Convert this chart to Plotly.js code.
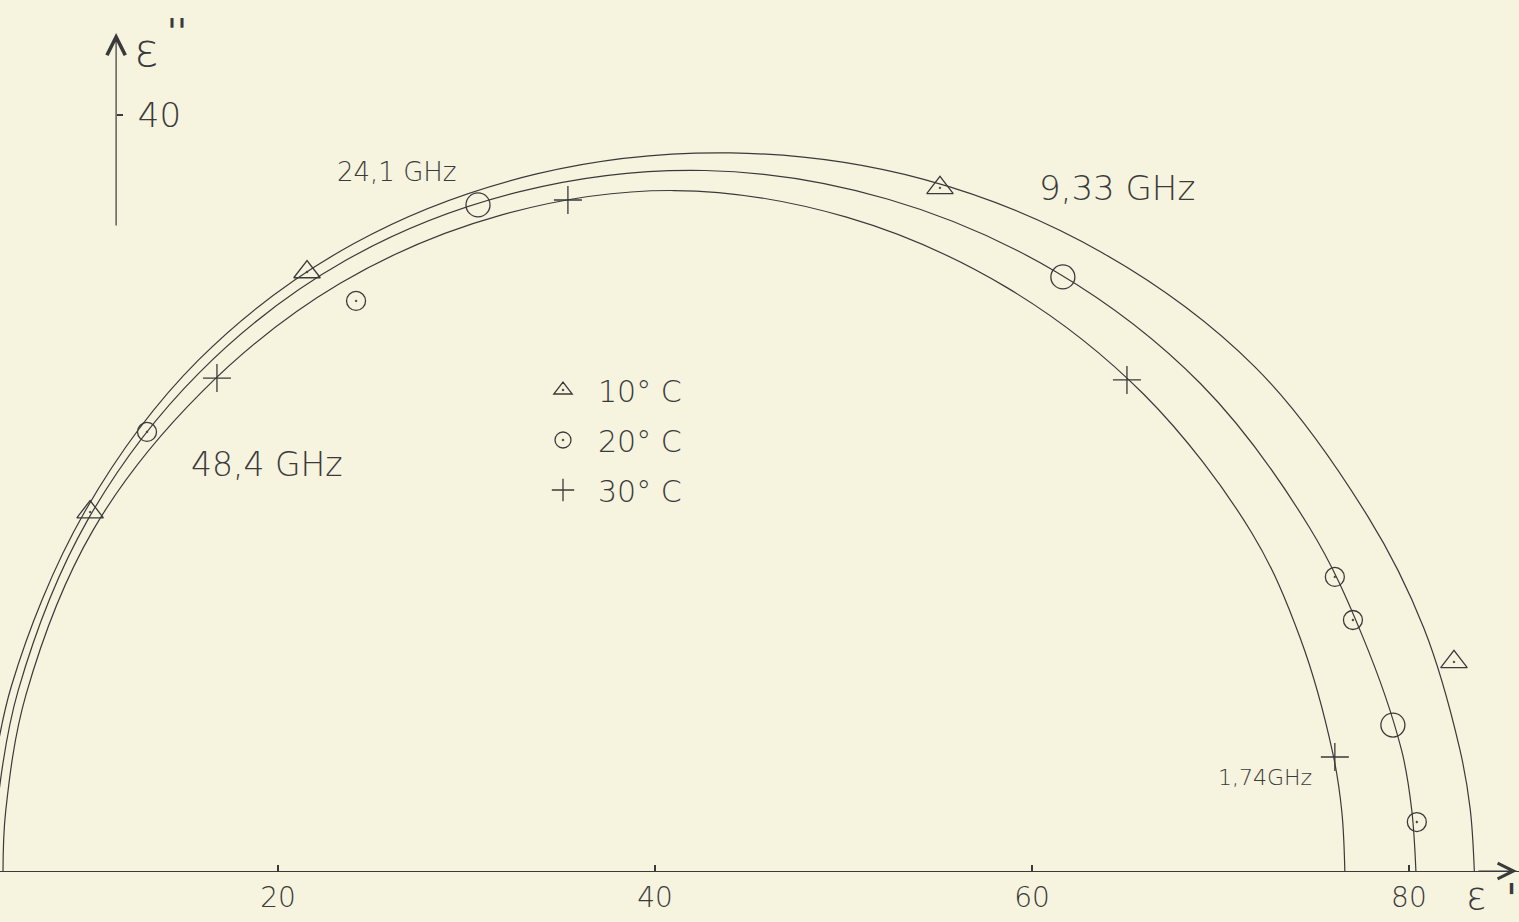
<!DOCTYPE html>
<html>
<head>
<meta charset="utf-8">
<script src="https://cdn.plot.ly/plotly-3.0.1.min.js"></script>
<style>
  html, body { margin: 0; padding: 0; background: #f6f3df; }
  #chart { width: 1519px; height: 922px; }
</style>
</head>
<body>
<div id="chart"></div>
<script>
// ---- data (epsilon', epsilon'') ----
// drawn curves (points read along each hand-drawn arc)
const curve10_x = [83.47, 83.25, 82.68, 80.80, 77.85, 71.84, 63.73, 54.26, 44.03, 33.72, 24.03, 15.80, 9.73, 5.86, 4.66, 4.51];
const curve10_y = [0, 3.29, 6.53, 12.83, 18.71, 26.66, 32.71, 36.59, 37.99, 36.88, 33.20, 27.05, 18.98, 9.80, 3.30, 0];
const curve20_x = [80.37, 80.15, 79.61, 77.53, 74.73, 68.95, 61.31, 52.37, 42.65, 32.83, 23.62, 15.79, 9.89, 6.22, 5.08, 4.93];
const curve20_y = [0, 3.22, 6.39, 12.44, 18.16, 25.78, 31.68, 35.54, 37.06, 35.94, 32.32, 26.33, 18.55, 9.57, 3.23, 0];
const curve30_x = [76.60, 76.44, 75.96, 74.26, 71.65, 65.93, 58.63, 50.16, 41.01, 31.83, 23.28, 15.96, 10.18, 6.63, 5.55, 5.41];
const curve30_y = [0, 3.14, 6.24, 12.25, 17.91, 25.22, 30.89, 34.59, 36.00, 34.70, 31.08, 25.35, 18.02, 9.33, 3.14, 0];

// measured points
const pts10_x = [10.03, 21.54, 55.12, 82.39];
const pts10_y = [18.99, 31.69, 36.14, 11.06];
const pts20_x = [13.05, 24.14, 76.07, 77.03, 80.42];
const pts20_y = [23.23, 30.16, 15.56, 13.28, 2.59];
const pts20open_x = [30.61, 61.64, 79.15];
const pts20open_y = [35.24, 31.43, 7.72];
const pts30_x = [16.76, 35.38, 65.04, 76.07];
const pts30_y = [26.08, 35.50, 25.98, 6.03];

const seriesNames = ['10° C', '20° C', '30° C'];
const xTickVals = [20, 40, 60, 80];
const xTickText = ['20', '40', '60', '80'];
const yTickVals = [40];
const yTickText = ['40'];
const freqLabels = ['24,1 GHz', '9,33 GHz', '48,4 GHz', '1,74GHz'];

// ---- layout helpers (pixel geometry of the sheet) ----
const W = 1519, H = 922, PLOT_H = 871;
const INK = '#3a3a3a';
const FONT = 'DejaVu Sans, Liberation Sans, sans-serif';
const px = x => x / W;
const py = y => 1 - y / PLOT_H;

const lineStyle = {color: INK, width: 1.2, shape: 'spline', smoothing: 1};
const mk = (symbol, size) => ({symbol: symbol, size: size, color: INK, line: {color: INK, width: 1.3}});

const traces = [
  {x: curve10_x, y: curve10_y, mode: 'lines', line: lineStyle, showlegend: false, hoverinfo: 'skip'},
  {x: curve20_x, y: curve20_y, mode: 'lines', line: lineStyle, showlegend: false, hoverinfo: 'skip'},
  {x: curve30_x, y: curve30_y, mode: 'lines', line: lineStyle, showlegend: false, hoverinfo: 'skip'},
  {x: pts10_x, y: pts10_y, mode: 'markers', name: seriesNames[0], legendgroup: 'a', marker: mk('triangle-up-open-dot', 23)},
  {x: pts20_x, y: pts20_y, mode: 'markers', name: seriesNames[1], legendgroup: 'b', marker: mk('circle-open-dot', 19)},
  {x: pts20open_x, y: pts20open_y, mode: 'markers', name: seriesNames[1], legendgroup: 'b', showlegend: false, marker: mk('circle-open', 24)},
  {x: pts30_x, y: pts30_y, mode: 'markers', name: seriesNames[2], legendgroup: 'c', marker: mk('cross-thin-open', 20)}
];

const txt = (text, x, y, size, weight) => ({
  text: text, x: px(x), y: py(y), xref: 'paper', yref: 'paper',
  showarrow: false, xanchor: 'center', yanchor: 'middle',
  font: {family: FONT, size: size, color: INK, weight: weight || 200}
});

const annotations = [
  txt(freqLabels[0], 397, 172, 26),
  txt(freqLabels[1], 1117, 188, 34),
  txt(freqLabels[2], 267, 465, 33),
  txt(freqLabels[3], 1265, 777, 22),
  txt('ε', 146, 50, 46),
  txt("''", 177, 32, 36, 400),
  txt('ε', 1476, 896, 38),
  txt("'", 1511, 899, 40, 400),
  // y-axis arrow
  {x: 11.41, y: 44.34, ax: 11.41, ay: 34.07, xref: 'x', yref: 'y', axref: 'x', ayref: 'y',
   showarrow: true, arrowhead: 5, arrowsize: 3, arrowwidth: 1.2, arrowcolor: INK, text: ''},
  // x-axis arrow
  {x: 85.73, y: 0, ax: -40, ay: 0, xref: 'x', yref: 'y',
   showarrow: true, arrowhead: 5, arrowsize: 2.6, arrowwidth: 1.2, arrowcolor: INK, text: ''}
];

const layout = {
  width: W, height: H,
  margin: {l: 0, r: 0, t: 0, b: H - PLOT_H, pad: 0},
  paper_bgcolor: '#f6f3df', plot_bgcolor: 'rgba(0,0,0,0)',
  font: {family: FONT, color: INK},
  xaxis: {
    range: [5.25, 85.84], showgrid: false, zeroline: false,
    showline: true, linecolor: INK, linewidth: 1.3,
    tickvals: xTickVals, ticktext: xTickText, ticks: 'inside', ticklen: 6, tickcolor: INK, tickwidth: 1.2,
    tickfont: {family: FONT, size: 28, color: INK, weight: 200}, ticklabelstandoff: 1
  },
  yaxis: {range: [0, 46.08], showgrid: false, zeroline: false, showline: false, showticklabels: false, ticks: ''},
  yaxis2: {
    range: [0, 46.08], overlaying: 'y', anchor: 'free', position: px(116), side: 'right',
    showgrid: false, zeroline: false, showline: false,
    tickvals: yTickVals, ticktext: yTickText, ticks: 'outside', ticklen: 6, tickcolor: INK, tickwidth: 1.2,
    tickfont: {family: FONT, size: 34, color: INK, weight: 200}, ticklabelstandoff: 8
  },
  showlegend: true,
  legend: {
    x: px(528), y: py(364), xanchor: 'left', yanchor: 'top',
    bgcolor: 'rgba(0,0,0,0)', borderwidth: 0, itemwidth: 60, tracegroupgap: 8,
    font: {family: FONT, size: 30, color: INK, weight: 200}
  },
  annotations: annotations
};

// empty trace so that yaxis2 is drawn
traces.push({x: [null], y: [null], yaxis: 'y2', showlegend: false, hoverinfo: 'skip', mode: 'markers'});

Plotly.newPlot('chart', traces, layout, {displayModeBar: false, staticPlot: true});
</script>
</body>
</html>
